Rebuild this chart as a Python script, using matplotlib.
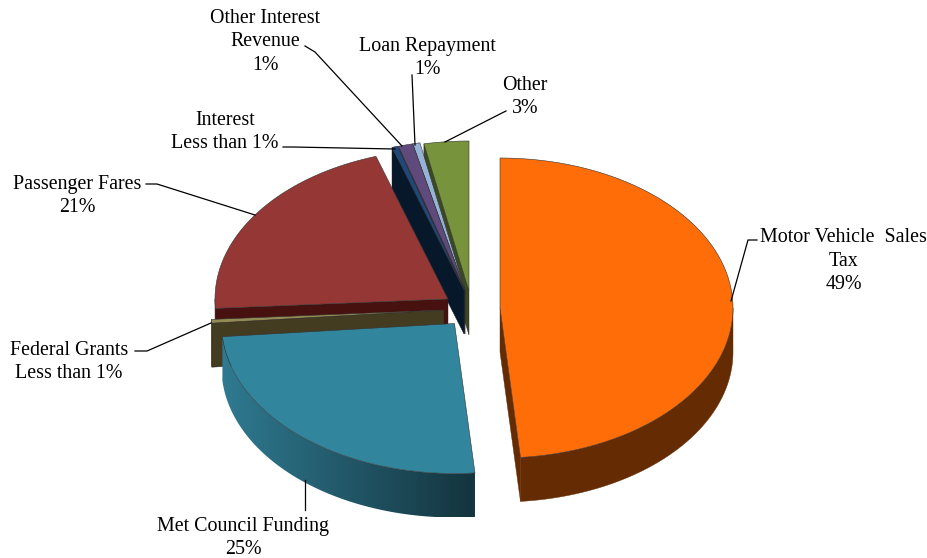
import matplotlib
matplotlib.use("Agg")
import matplotlib.pyplot as plt
from matplotlib.patches import Polygon
from matplotlib.colors import LinearSegmentedColormap
import numpy as np

# slices, clockwise from 12 o'clock
categories = ["Motor Vehicle  Sales\nTax\n49%", "Met Council Funding\n25%", "Federal Grants\nLess than 1%",
              "Passenger Fares\n21%", "Interest\nLess than 1%", "Other Interest\nRevenue\n1%",
              "Loan Repayment\n1%", "Other\n3%"]
shares = [48.6, 25.0, 0.4, 21.0, 0.4, 1.0, 0.5, 3.1]

top_colors = ["#ff6d09", "#31859c", "#948a54", "#953735", "#1f497d", "#604a7b", "#95b3d7", "#77933c"]
wall_colors = ["#652b02", "#14343e", "#443c20", "#47110f", "#07182b", "#30243d", "#4a5a6c", "#3b4a1e"]

# where each slice's tip lands in the picture once exploded
tips = [(500, 308), (454.5, 323.5), (444, 310), (448, 299), (464, 290), (465, 290), (465, 290), (469, 291)]
label_pos = [(843.5, 261), (243, 538), (69, 362), (77.5, 196), (225, 132), (265, 42), (427, 58), (525, 97)]
leaders = [[(731, 301), (748, 240), (757, 240)],
           [(305.5, 480), (305.5, 510)],
           [(211, 323), (147, 351), (135, 351)],
           [(255, 215), (157, 184), (146, 184)],
           [(395, 149), (293, 147), (283, 147)],
           [(402, 146), (315, 52), (305, 46)],
           [(415, 145), (412, 75)],
           [(445, 142), (500, 114), (506, 111)]]

RX, RY, DEPTH = 233, 150, 44

plt.rcParams['font.family'] = ['Liberation Serif', 'DejaVu Serif']

fig = plt.figure(figsize=(9.28, 5.58), dpi=100)
ax = fig.add_axes([0, 0, 1, 1])
ax.axis("off")


def rim(tip, a0, a1, n=120):
    t = np.radians(np.linspace(a0, a1, n))
    return np.column_stack([tip[0] + RX * np.sin(t), tip[1] - RY * np.cos(t)])


def outer_wall(i, tip, a0, a1, z):
    # part of the rim that faces the viewer
    lo, hi = max(a0, 90), min(a1, 270)
    if hi <= lo:
        return
    r = rim(tip, lo, hi)
    shape = np.vstack([r, r[::-1] + [0, DEPTH]])
    if i == 1:
        # Met Council wall fades from light at the left to dark at the right
        patch = Polygon(shape, closed=True, fc="none", ec="none", zorder=z)
        ax.add_patch(patch)
        cmap = LinearSegmentedColormap.from_list("met", ["#2f7a91", "#14343e"])
        x0, x1 = shape[:, 0].min(), shape[:, 0].max()
        y0, y1 = shape[:, 1].min(), shape[:, 1].max()
        im = ax.imshow(np.linspace(0, 1, 256).reshape(1, -1), cmap=cmap, aspect="auto",
                       extent=(x0, x1, y1, y0), zorder=z, interpolation="bilinear")
        im.set_clip_path(patch)
    else:
        ax.add_patch(Polygon(shape, closed=True, fc=wall_colors[i], ec=wall_colors[i], lw=0.3, zorder=z))


edges = np.concatenate([[0], np.cumsum(shares)]) * 3.6
# back slices first so that the front ones cover them
order = [7, 6, 5, 4, 3, 2, 1, 0]
z = 2
for i in order:
    a0, a1 = edges[i], edges[i + 1]
    tip = np.array(tips[i], dtype=float)
    r = rim(tip, a0, a1)
    # only the cut face turned towards the left can be seen
    if a0 > 180:
        face = np.array([tip, r[0], r[0] + [0, DEPTH], tip + [0, DEPTH]])
        ax.add_patch(Polygon(face, closed=True, fc=wall_colors[i], ec="#222222", lw=0.3, zorder=z))
    if a1 < 180:
        face = np.array([tip, r[-1], r[-1] + [0, DEPTH], tip + [0, DEPTH]])
        ax.add_patch(Polygon(face, closed=True, fc=wall_colors[i], ec=wall_colors[i], lw=0.3, zorder=z))
    outer_wall(i, tip, a0, a1, z)
    ax.add_patch(Polygon(np.vstack([tip, r]), closed=True, fc=top_colors[i], ec="#333333", lw=0.4, zorder=z + 1))
    z += 2

for pts in leaders:
    xs, ys = zip(*pts)
    ax.plot(xs, ys, color="black", lw=0.9, zorder=30)

for name, (x, y) in zip(categories, label_pos):
    ax.text(x, y, name, ha="center", va="center", fontsize=14.4, linespacing=1.3, color="black", zorder=31)

ax.set_xlim(0, 928)
ax.set_ylim(558, 0)
fig.savefig("out.png", dpi=100)
